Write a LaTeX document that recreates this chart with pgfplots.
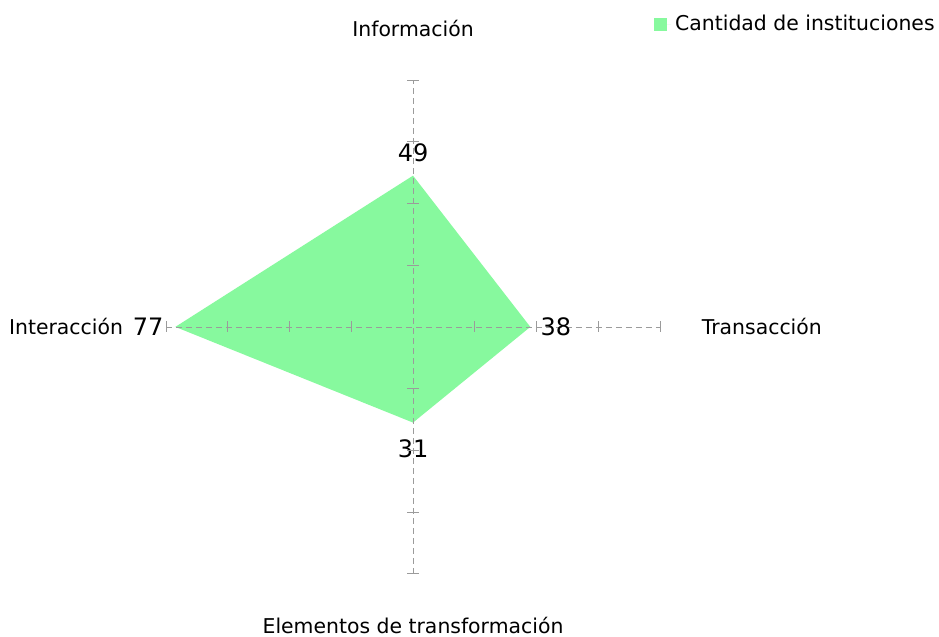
\documentclass[border=0pt]{standalone}
\usepackage{pgfplots}
\pgfplotsset{compat=1.18}
\usepackage{fontspec}
\setmainfont{DejaVu Sans}
\definecolor{radarfill}{RGB}{135,249,158}
\definecolor{gridgray}{RGB}{155,155,155}
\begin{document}
\begin{tikzpicture}
\begin{axis}[
  hide axis, x=1.54375pt, y=1.54375pt,
  xmin=-133.8, xmax=170.4, ymin=-100.4, ymax=105.9,
  clip=false,
  legend style={at={(axis cs:170.4,102.5)}, anchor=north east, draw=none, fill=none,
    font=\fontsize{10.2}{12}\selectfont, inner sep=0pt},
  legend cell align=left,
  legend image code/.code={\fill[radarfill] (0pt,-3.2pt) rectangle (6.4pt,3.2pt);
    \path (0pt,0pt) -- (8.6pt,0pt);},
]
% values: Informacion, Transaccion, Elementos de transformacion, Interaccion
\addplot[fill=radarfill, draw=none] coordinates {(0,49) (38,0) (0,-31) (-77,0) (0,49)};
\addlegendentry{Cantidad de instituciones}
\addplot[gridgray, densely dashed, thin, forget plot] coordinates {(-80,0) (80,0)};
\addplot[gridgray, densely dashed, thin, forget plot] coordinates {(0,-80) (0,80)};
\addplot[gridgray, only marks, mark=|, mark size=2.8pt, forget plot] coordinates {(-80,0) (-60,0) (-40,0) (-20,0) (20,0) (40,0) (60,0) (80,0)};
\addplot[gridgray, only marks, mark=-, mark size=2.8pt, forget plot] coordinates {(0,-80) (0,-60) (0,-40) (0,-20) (0,20) (0,40) (0,60) (0,80)};
\node[font=\fontsize{10.2}{12}\selectfont] at (axis cs:0,96.8) {Información};
\node[font=\fontsize{10.2}{12}\selectfont] at (axis cs:0,-96.8) {Elementos de transformación};
\node[font=\fontsize{10.2}{12}\selectfont] at (axis cs:113,0) {Transacción};
\node[font=\fontsize{10.2}{12}\selectfont] at (axis cs:-112.4,0) {Interacción};
\node[font=\fontsize{12}{14}\selectfont] at (axis cs:0,56.4) {49};
\node[font=\fontsize{12}{14}\selectfont] at (axis cs:46.3,0) {38};
\node[font=\fontsize{12}{14}\selectfont] at (axis cs:0,-39.5) {31};
\node[font=\fontsize{12}{14}\selectfont] at (axis cs:-85.8,0) {77};
\end{axis}
\pgfresetboundingbox
\path[use as bounding box] (current axis.south west) rectangle (current axis.north east);
\end{tikzpicture}
\end{document}
